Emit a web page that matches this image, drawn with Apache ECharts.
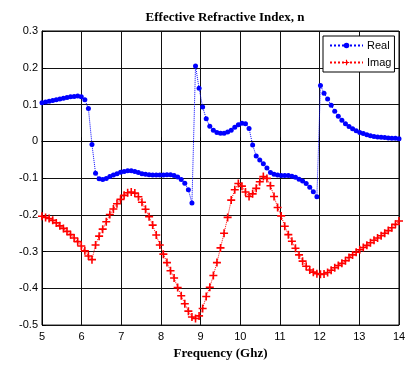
<!DOCTYPE html>
<html>
<head>
<meta charset="utf-8">
<script src="https://cdn.jsdelivr.net/npm/echarts@6/dist/echarts.min.js"></script>
<style>html,body{margin:0;padding:0;background:#fff}#c{width:419px;height:365px}</style>
</head>
<body>
<div id="c"></div>
<script>
const freq = [5.00,5.09,5.18,5.27,5.36,5.45,5.54,5.63,5.72,5.81,5.90,5.99,6.08,6.17,6.26,6.35,6.44,6.53,6.62,6.71,6.80,6.89,6.98,7.07,7.16,7.25,7.34,7.43,7.52,7.61,7.70,7.79,7.88,7.97,8.06,8.15,8.24,8.33,8.42,8.51,8.60,8.69,8.78,8.87,8.96,9.05,9.14,9.23,9.32,9.41,9.50,9.59,9.68,9.77,9.86,9.95,10.04,10.13,10.22,10.31,10.40,10.49,10.58,10.67,10.76,10.85,10.94,11.03,11.12,11.21,11.30,11.39,11.48,11.57,11.66,11.75,11.84,11.93,12.02,12.11,12.20,12.29,12.38,12.47,12.56,12.65,12.74,12.83,12.92,13.01,13.10,13.19,13.28,13.37,13.46,13.55,13.64,13.73,13.82,13.91,14.00];

const realN = [0.105,0.107,0.109,0.111,0.113,0.115,0.117,0.119,0.121,0.122,0.123,0.121,0.113,0.089,-0.009,-0.087,-0.102,-0.104,-0.101,-0.096,-0.092,-0.088,-0.084,-0.082,-0.080,-0.080,-0.082,-0.085,-0.088,-0.090,-0.091,-0.092,-0.092,-0.092,-0.092,-0.091,-0.091,-0.093,-0.097,-0.104,-0.114,-0.132,-0.168,0.205,0.144,0.093,0.061,0.041,0.030,0.024,0.022,0.022,0.025,0.030,0.038,0.045,0.049,0.048,0.035,-0.010,-0.040,-0.051,-0.061,-0.073,-0.085,-0.090,-0.092,-0.093,-0.093,-0.093,-0.095,-0.098,-0.103,-0.108,-0.115,-0.125,-0.137,-0.151,0.152,0.131,0.115,0.098,0.082,0.068,0.057,0.048,0.040,0.034,0.029,0.024,0.021,0.018,0.015,0.013,0.012,0.011,0.010,0.009,0.008,0.008,0.007];

const imagN = [-0.204,-0.207,-0.210,-0.215,-0.222,-0.230,-0.237,-0.245,-0.254,-0.263,-0.273,-0.285,-0.298,-0.312,-0.322,-0.282,-0.258,-0.239,-0.219,-0.199,-0.184,-0.170,-0.158,-0.147,-0.140,-0.138,-0.141,-0.151,-0.166,-0.185,-0.205,-0.228,-0.255,-0.282,-0.307,-0.330,-0.352,-0.372,-0.398,-0.420,-0.442,-0.462,-0.478,-0.482,-0.475,-0.455,-0.422,-0.397,-0.365,-0.330,-0.290,-0.250,-0.207,-0.160,-0.132,-0.115,-0.122,-0.138,-0.150,-0.143,-0.128,-0.110,-0.096,-0.101,-0.121,-0.150,-0.180,-0.203,-0.231,-0.254,-0.272,-0.291,-0.309,-0.326,-0.340,-0.350,-0.356,-0.360,-0.362,-0.361,-0.357,-0.351,-0.344,-0.338,-0.332,-0.325,-0.316,-0.309,-0.302,-0.295,-0.289,-0.283,-0.276,-0.269,-0.263,-0.257,-0.250,-0.243,-0.235,-0.226,-0.217];

const seriesNames = ['Real', 'Imag'];
const titleText = 'Effective Refractive Index, n';
const xName = 'Frequency (Ghz)';

const plus = 'path://M4,0L6,0L6,4L10,4L10,6L6,6L6,10L4,10L4,6L0,6L0,4L4,4Z';

const chart = echarts.init(document.getElementById('c'), null, {renderer: 'canvas'});
const sans = 'Liberation Sans, Arial, sans-serif';
const serif = 'Liberation Serif, Times New Roman, serif';

chart.setOption({
  animation: false,
  backgroundColor: '#fff',
  title: {
    text: titleText,
    left: 220, top: 6, textAlign: 'center',
    textStyle: {fontFamily: serif, fontWeight: 'bold', fontSize: 13, color: '#000'}
  },
  grid: {left: 42, right: 20, top: 31, bottom: 37, show: true, borderColor: '#000', borderWidth: 1, backgroundColor: '#fff'},
  legend: {
    orient: 'vertical', left: 323, top: 36,
    data: seriesNames,
    backgroundColor: '#fff', borderColor: '#000', borderWidth: 1,
    padding: [4, 3, 4, 6], itemGap: 6, itemWidth: 33, itemHeight: 7,
    textStyle: {fontFamily: sans, fontSize: 11, color: '#000', padding: [0,0,0,-1]}
  },
  xAxis: {
    type: 'value', min: 5, max: 14, interval: 1,
    name: xName, nameLocation: 'middle', nameGap: 19,
    nameTextStyle: {fontFamily: serif, fontWeight: 'bold', fontSize: 13, color: '#000'},
    axisLine: {lineStyle: {color: '#000'}},
    axisTick: {inside: true, length: 4, lineStyle: {color: '#000'}},
    axisLabel: {fontFamily: sans, fontSize: 11, color: '#000', margin: 6},
    splitLine: {show: true, lineStyle: {color: '#111', width: 1}}
  },
  yAxis: {
    type: 'value', min: -0.5, max: 0.3, interval: 0.1,
    axisLine: {show: true, lineStyle: {color: '#000'}},
    axisTick: {show: true, inside: true, length: 4, lineStyle: {color: '#000'}},
    axisLabel: {fontFamily: sans, fontSize: 11, color: '#000', margin: 4,
      formatter: v => String(+v.toFixed(1))},
    splitLine: {show: true, lineStyle: {color: '#111', width: 1}}
  },
  series: [
    {
      name: seriesNames[0], type: 'line', clip: false,
      data: freq.map((f, i) => [f, realN[i]]),
      symbol: 'circle', symbolSize: 5,
      itemStyle: {color: '#0000ff'},
      lineStyle: {color: '#0000ff', width: 1, type: 'dotted'}
    },
    {
      name: seriesNames[1], type: 'line', clip: false,
      data: freq.map((f, i) => [f, imagN[i]]),
      symbol: plus, symbolSize: 8,
      itemStyle: {color: '#ff0000'},
      lineStyle: {color: '#ff0000', width: 1, type: 'dotted'}
    }
  ]
});
</script>
</body>
</html>
